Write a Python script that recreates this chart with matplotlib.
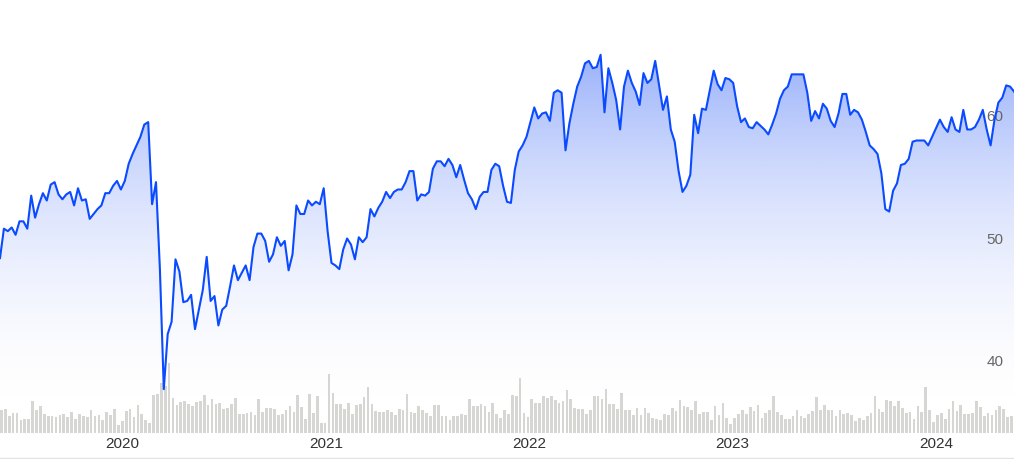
import numpy as np
import pandas as pd
import matplotlib
matplotlib.use('Agg')
import matplotlib.pyplot as plt
import matplotlib.dates as mdates
from matplotlib.path import Path
from matplotlib.patches import PathPatch
from matplotlib.lines import Line2D

plt.rcParams['font.family'] = ['Liberation Sans', 'DejaVu Sans']

# weekly closing prices (starting week of 2019-05-27)
prices = [
    48.4, 50.8, 50.6, 50.9, 50.3, 51.4, 51.4, 50.8, 53.5, 51.7, 52.8, 53.7, 53.1, 54.4, 54.6, 53.6,
    53.2, 53.6, 53.8, 52.7, 54.1, 53.1, 53.2, 51.6, 52.0, 52.4, 52.7, 53.7, 53.7, 54.3, 54.7, 54.0, 54.7,
    56.1, 56.9, 57.6, 58.3, 59.3, 59.5, 52.8, 54.6, 47.5, 37.7, 42.2, 43.2, 48.3, 47.3, 44.8, 44.9,
    45.4, 42.6, 44.2, 45.8, 48.5, 44.9, 45.3, 42.9, 44.2, 44.5, 46.1, 47.8, 46.6, 47.2, 47.8, 46.6,
    49.3, 50.4, 50.4, 49.8, 48.1, 48.7, 50.1, 49.4, 49.8, 47.4, 48.7, 52.7, 52.0, 52.0, 53.1, 52.7,
    53.0, 52.8, 54.1, 50.6, 48.0, 47.8, 47.5, 49.1, 50.0, 49.5, 48.3, 50.1, 49.7, 50.1, 52.4, 51.8,
    52.5, 53.0, 53.8, 53.3, 53.8, 54.0, 54.0, 54.6, 55.5, 55.5, 53.1, 53.6, 53.5, 53.8, 55.7, 56.3,
    56.3, 55.9, 56.5, 56.0, 55.0, 56.0, 54.8, 53.7, 53.2, 52.4, 53.4, 53.8, 53.8, 55.6, 56.1, 55.9, 54.3,
    53.0, 52.9, 55.6, 57.1, 57.6, 58.3, 59.5, 60.7, 59.8, 60.2, 60.3, 59.6, 61.9, 62.1, 61.9, 57.2,
    59.4, 61.0, 62.4, 63.2, 64.3, 64.5, 63.9, 64.0, 65.0, 60.3, 63.9, 62.7, 61.3, 58.9, 62.4,
    63.7, 62.7, 62.0, 60.9, 63.5, 62.7, 63.0, 64.5, 62.5, 60.5, 61.6, 58.9, 57.9, 55.5, 53.8, 54.3,
    55.2, 60.1, 58.6, 60.6, 60.5, 62.1, 63.7, 62.6, 62.1, 63.1, 63.0, 62.7, 60.8, 59.5, 59.8, 59.1, 59.0,
    59.5, 59.2, 58.9, 58.5, 59.3, 60.2, 61.4, 62.1, 62.4, 63.4, 63.4, 63.4, 63.4, 61.9, 59.6, 60.4,
    59.8, 61.0, 60.6, 59.6, 59.1, 60.2, 61.8, 61.8, 60.1, 60.5, 60.3, 59.7, 58.7, 57.6, 57.3, 56.9,
    55.3, 52.4, 52.2, 53.9, 54.5, 56.0, 56.1, 56.5, 57.9, 58.0, 58.0, 58.0, 57.6, 58.3, 59.0, 59.7,
    59.1, 58.7, 59.9, 58.9, 58.7, 60.5, 58.9, 58.9, 59.1, 59.7, 60.5, 58.9, 57.6, 59.7, 61.1, 61.5,
    62.5, 62.4, 62.0,
]

# weekly volume, millions of shares
volume_m = [
    2.3, 2.4, 1.7, 2.0, 2.0, 1.3, 1.4, 1.4, 3.2, 2.3, 2.7, 1.9, 1.7, 1.7, 1.6, 1.8, 1.9, 1.6, 2.1, 1.4,
    1.9, 1.7, 1.6, 2.3, 1.7, 1.8, 1.3, 2.1, 1.8, 2.4, 0.8, 1.2, 2.2, 2.4, 1.6, 2.8, 1.9, 1.3, 1.0, 3.8,
    3.9, 5.0, 4.7, 7.0, 3.5, 2.8, 3.1, 3.2, 2.9, 2.7, 3.1, 3.2, 3.8, 2.8, 3.4, 2.9, 3.0, 2.4, 2.5, 2.9,
    3.5, 1.9, 1.9, 2.0, 2.1, 1.8, 3.4, 2.1, 2.5, 2.5, 2.4, 1.8, 1.9, 2.3, 2.7, 2.1, 3.8, 2.6, 1.4, 3.9,
    2.0, 3.7, 1.0, 1.0, 5.9, 4.0, 2.9, 2.9,
    2.4, 3.0, 1.9, 2.8, 2.9, 3.6, 4.6, 2.9, 2.2, 2.1, 2.1, 2.3, 2.1, 1.8, 2.4, 2.3, 3.9, 2.1, 2.0, 2.7,
    2.3, 2.0, 1.7, 2.8, 2.8, 1.7, 1.7, 1.3, 1.7, 1.7, 1.9, 1.8, 3.4, 2.7, 2.7, 2.9, 2.7, 2.1, 3.0, 1.9,
    1.5, 2.3, 1.9, 3.8, 3.7, 5.5, 2.0, 1.6, 3.4, 3.0, 3.0, 3.7, 3.5, 3.7, 3.3, 3.0, 3.2, 4.3, 3.4, 2.5,
    2.4, 2.4, 1.9, 2.3, 3.7, 3.7, 3.4, 4.4, 2.9, 2.9, 2.4, 4.0, 2.3, 2.3, 1.8, 2.5, 1.8, 2.5, 2.0, 1.5,
    1.4, 1.3, 1.9, 1.8, 2.5, 2.2,
    3.3, 2.7, 2.6, 2.3, 3.2, 1.9, 2.1, 2.1, 1.3, 2.7, 1.8, 3.0, 1.5, 0.9, 1.5, 1.9, 2.3, 1.9, 2.6, 2.2,
    2.8, 1.5, 2.0, 2.3, 3.7, 2.1, 1.8, 1.4, 1.4, 1.7, 2.3, 1.7, 1.5, 1.9, 2.2, 3.6, 2.3, 2.8, 2.3, 2.3,
    1.7, 2.3, 1.9, 2.0, 1.8, 1.2, 1.5, 1.3, 1.7, 2.0, 3.7, 2.4, 2.1, 3.3, 3.2, 2.7, 3.2, 2.5, 2.0, 2.1,
    1.4, 2.7, 2.1, 4.6, 2.3, 1.1, 1.8, 2.0, 1.4, 2.4, 3.2, 2.2, 2.8, 1.9, 1.9, 2.0, 3.2, 2.6, 1.7, 2.0,
    1.8, 2.3, 2.7, 2.4, 1.6, 1.7,
]

years = [2020, 2021, 2022, 2023, 2024]
price_ticks = [40, 50, 60]

dates = pd.date_range('2019-05-27', periods=len(prices), freq='7D')
vol_dates = dates[:len(volume_m)]

fig = plt.figure(figsize=(10.14, 4.59), dpi=100)
rect = [0, 26 / 459, 1, 433 / 459]
ax_v = fig.add_axes(rect)
ax = fig.add_axes(rect, sharex=ax_v)
ax.patch.set_visible(False)

# volume bars
ax_v.bar(vol_dates, volume_m, width=5, align='edge', color='#d6d6d3', linewidth=0)
ax_v.set_ylim(0, 43.3)
ax_v.axis('off')

ylo, yhi = 34.12, 69.47
x0, x1 = mdates.date2num(dates[0]), mdates.date2num(dates[-1])

# gradient fill under the line
t = np.linspace(0, 1, 300)[:, None]
grad = np.zeros((300, 2, 4))
grad[..., 0] = 0 / 255
grad[..., 1] = 60 / 255
grad[..., 2] = 243 / 255
grad[..., 3] = 0.52 * t ** 2
im = ax.imshow(grad, extent=[x0, x1, ylo, yhi], origin='lower', aspect='auto', zorder=1)
xs = mdates.date2num(dates)
verts = [(xs[0], ylo)] + list(zip(xs, prices)) + [(xs[-1], ylo), (xs[0], ylo)]
clip = PathPatch(Path(verts), facecolor='none', edgecolor='none')
ax.add_patch(clip)
im.set_clip_path(clip)

ax.plot(dates, prices, color='#0b4bff', lw=1.5, zorder=3)

ax.set_xlim(dates[0], dates[-1])
ax.set_ylim(ylo, yhi)

ax.set_yticks(price_ticks)
ax.set_yticklabels([str(v) for v in price_ticks])
ax.yaxis.tick_right()
ax.tick_params(axis='y', length=0, pad=-20, labelcolor='#666666', labelsize=11)

ax.set_xticks([pd.Timestamp(f'{y}-01-01') for y in years])
ax.set_xticklabels([str(y) for y in years])
ax.tick_params(axis='x', length=0, pad=3, labelcolor='#333333', labelsize=11)

for s in ax.spines.values():
    s.set_visible(False)

fig.add_artist(Line2D([0, 1], [1.5 / 459, 1.5 / 459], color='#e3e3e3', lw=1))

fig.savefig('out.png', dpi=100)
